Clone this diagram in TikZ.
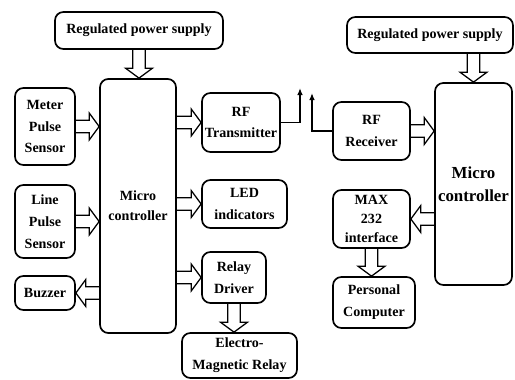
\documentclass[tikz,border=0pt]{standalone}
\usepackage{fontspec}
\setmainfont{Liberation Serif}
\usetikzlibrary{arrows.meta, calc}
\newcommand{\hollowarrow}[2]{%
  \path (#1) coordinate (ha) (#2) coordinate (hb);
  \path ($(hb)!7pt!(ha)$) coordinate (hc);
  \draw[harrow] ($(ha)!4.5pt!90:(hb)$) -- ($(hc)!4.5pt!90:(hb)$) -- ($(hc)!9.5pt!90:(hb)$) -- (hb)
    -- ($(hc)!9.5pt!-90:(hb)$) -- ($(hc)!4.5pt!-90:(hb)$) -- ($(ha)!4.5pt!-90:(hb)$);
}

\begin{document}
\begin{tikzpicture}[x=0.025cm, y=-0.025cm,
    box/.style={draw, very thick, rounded corners=6pt, align=center, inner sep=1pt,
      font=\bfseries\fontsize{10}{15.5}\selectfont},
    harrow/.style={line width=0.9pt, line join=miter},
    ant/.style={line width=1pt, -{Latex[length=5pt,width=4pt]}}]
        \useasboundingbox (0,0) rectangle (515,380);
        \node[box, minimum width=4.2cm, minimum height=0.925cm] (psuL) at (139,30.5) {Regulated power supply};
        \node[box, minimum width=1.9cm, minimum height=6.35cm, font=\bfseries\fontsize{10}{14}\selectfont] (mcuL) at (138,206) {Micro\\controller};
        \node[box, minimum width=1.5cm, minimum height=1.925cm] (meter) at (45,126.5) {Meter\\Pulse\\Sensor};
        \node[box, minimum width=1.5cm, minimum height=1.825cm] (linesens) at (45,221.5) {Line\\Pulse\\Sensor};
        \node[box, minimum width=1.5cm, minimum height=0.85cm] (buzzer) at (45,293) {Buzzer};
        \node[box, minimum width=1.95cm, minimum height=1.475cm] (rftx) at (241,122.5) {RF\\Transmitter};
        \node[box, minimum width=2.125cm, minimum height=1.2cm] (led) at (244.5,204) {LED\\indicators};
        \node[box, minimum width=1.6cm, minimum height=1.275cm] (rdrv) at (234,277.5) {Relay\\Driver};
        \node[box, minimum width=2.875cm, minimum height=1.125cm] (emrelay) at (239.5,355.5) {Electro-\\Magnetic Relay};
        \node[box, minimum width=4.15cm, minimum height=0.9cm] (psuR) at (430,35) {Regulated power supply};
        \node[box, minimum width=1.925cm, minimum height=5.05cm, font=\bfseries\fontsize{12}{16.3}\selectfont] (mcuR) at (473.5,184) {Micro\\controller};
        \node[box, minimum width=1.925cm, minimum height=1.45cm] (rfrx) at (371.5,131) {RF\\Receiver};
        \node[box, minimum width=1.925cm, minimum height=1.45cm, font=\bfseries\fontsize{10}{13.5}\selectfont] (max232) at (371.5,219) {MAX\\232\\interface};
        \node[box, minimum width=2.05cm, minimum height=1.275cm] (pc) at (374,302.5) {Personal\\Computer};

        \hollowarrow{psuL.south}{psuL.south |- mcuL.north}
        \hollowarrow{meter.east}{meter.east -| mcuL.west}
        \hollowarrow{linesens.east}{linesens.east -| mcuL.west}
        \hollowarrow{mcuL.west |- buzzer.east}{buzzer.east}
        \hollowarrow{mcuL.east |- rftx.west}{rftx.west}
        \hollowarrow{mcuL.east |- led.west}{led.west}
        \hollowarrow{mcuL.east |- rdrv.west}{rdrv.west}
        \hollowarrow{rdrv.south}{rdrv.south |- emrelay.north}
        \hollowarrow{mcuR.north |- psuR.south}{mcuR.north}
        \hollowarrow{rfrx.east}{rfrx.east -| mcuR.west}
        \hollowarrow{mcuR.west |- max232.east}{max232.east}
        \hollowarrow{max232.south}{max232.south |- pc.north}

        \coordinate (antL) at (300,88);
        \coordinate (antR) at (312,93);
        \draw[ant] (rftx.east) -| (antL);
        \draw[ant] (rfrx.west) -| (antR);
      \end{tikzpicture}
\end{document}
